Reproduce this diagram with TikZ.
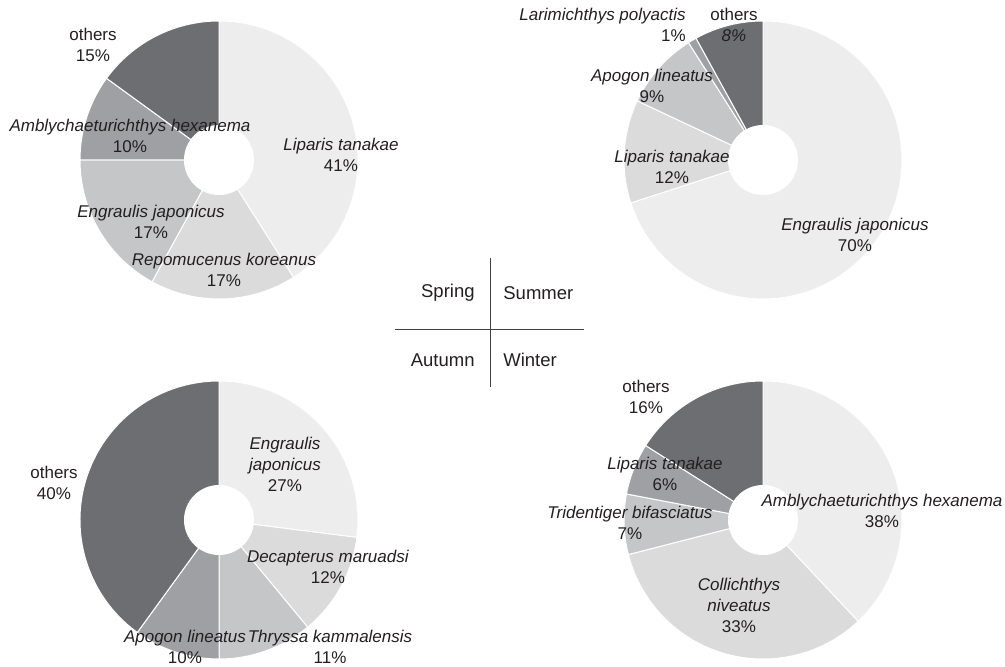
\documentclass[tikz,border=0pt]{standalone}
\usepackage{fontspec}
\setmainfont{Liberation Sans}
\definecolor{gA}{HTML}{EDEDED}
\definecolor{gB}{HTML}{DBDBDC}
\definecolor{gC}{HTML}{C5C6C8}
\definecolor{gD}{HTML}{9FA0A3}
\definecolor{gE}{HTML}{6D6E71}
\definecolor{txt}{HTML}{231F20}
\tikzset{every picture/.style={line width=0.75pt}}

\begin{document}
\begin{tikzpicture}[x=1pt,y=1pt,
	wedge/.style={draw=white,line width=1pt},
	lbl/.style={align=center,inner sep=0pt,text=txt,font=\fontsize{17}{21}\selectfont},
	season/.style={inner sep=0pt,text=txt,font=\fontsize{18.5}{22}\selectfont}]
	\useasboundingbox (0,0) rectangle (1005,667);
	%Spring
	\foreach \a/\b/\c in {90/-57.6/gA,-57.6/-118.8/gB,-118.8/-180/gC,-180/-216/gD,-216/-270/gE}
		\filldraw[wedge,fill=\c] (219,507) -- ++(\a:139) arc[start angle=\a,end angle=\b,radius=139] -- cycle;
	\fill[white] (219,507) circle[radius=35];
	\node[lbl] (sp1) at (341,512) {\textit{Liparis tanakae}\\41\%};
	\node[lbl] (sp2) at (224,397) {\textit{Repomucenus koreanus}\\17\%};
	\node[lbl] (sp3) at (151,445) {\textit{Engraulis japonicus}\\17\%};
	\node[lbl] (sp4) at (130,531) {\textit{Amblychaeturichthys hexanema}\\10\%};
	\node[lbl] (sp5) at (93,622) {others\\15\%};
	%Summer
	\foreach \a/\b/\c in {90/-162/gA,-162/-205.2/gB,-205.2/-237.6/gC,-237.6/-241.2/gD,-241.2/-270/gE}
		\filldraw[wedge,fill=\c] (763,507) -- ++(\a:139) arc[start angle=\a,end angle=\b,radius=139] -- cycle;
	\fill[white] (763,507) circle[radius=35];
	\node[lbl] (su1) at (855,432) {\textit{Engraulis japonicus}\\70\%};
	\node[lbl] (su2) at (672,500) {\textit{Liparis tanakae}\\12\%};
	\node[lbl] (su3) at (652,581) {\textit{Apogon lineatus}\\9\%};
	\node[lbl,align=right,anchor=east] (su4) at (686,642) {\textit{Larimichthys polyactis}\\1\%};
	\node[lbl] (su5) at (734,642) {others\\\textit{8\%}};
	%Autumn
	\foreach \a/\b/\c in {90/-7.2/gA,-7.2/-50.4/gB,-50.4/-90/gC,-90/-126/gD,-126/-270/gE}
		\filldraw[wedge,fill=\c] (219,147) -- ++(\a:139) arc[start angle=\a,end angle=\b,radius=139] -- cycle;
	\fill[white] (219,147) circle[radius=35];
	\node[lbl] (au1) at (285,203) {\textit{Engraulis}\\\textit{japonicus}\\27\%};
	\node[lbl] (au2) at (328,100) {\textit{Decapterus maruadsi}\\12\%};
	\node[lbl] (au3) at (330,20) {\textit{Thryssa kammalensis}\\11\%};
	\node[lbl] (au4) at (185,20) {\textit{Apogon lineatus}\\10\%};
	\node[lbl] (au5) at (54,184) {others\\40\%};
	%Winter
	\foreach \a/\b/\c in {90/-46.8/gA,-46.8/-165.6/gB,-165.6/-190.8/gC,-190.8/-212.4/gD,-212.4/-270/gE}
		\filldraw[wedge,fill=\c] (763,147) -- ++(\a:139) arc[start angle=\a,end angle=\b,radius=139] -- cycle;
	\fill[white] (763,147) circle[radius=35];
	\node[lbl] (wi1) at (882,156) {\textit{Amblychaeturichthys hexanema}\\38\%};
	\node[lbl] (wi2) at (739,62) {\textit{Collichthys}\\\textit{niveatus}\\33\%};
	\node[lbl] (wi3) at (630,144) {\textit{Tridentiger bifasciatus}\\7\%};
	\node[lbl] (wi4) at (665,193) {\textit{Liparis tanakae}\\6\%};
	\node[lbl] (wi5) at (646,270) {others\\16\%};
	%Chu thich mua
	\coordinate (vt) at (490,409);
	\coordinate (vb) at (490,280);
	\coordinate (hl) at (395,338);
	\coordinate (hr) at (584,338);
	\draw[txt!85] (vt) -- (vb);
	\draw[txt!85] (hl) -- (hr);
	\node[season,anchor=east] (spring) at (475,374) {Spring};
	\node[season,anchor=west] (summer) at (503,374) {Summer};
	\node[season,anchor=east] (autumn) at (475,307) {Autumn};
	\node[season,anchor=west] (winter) at (503,307) {Winter};
\end{tikzpicture}
\end{document}
